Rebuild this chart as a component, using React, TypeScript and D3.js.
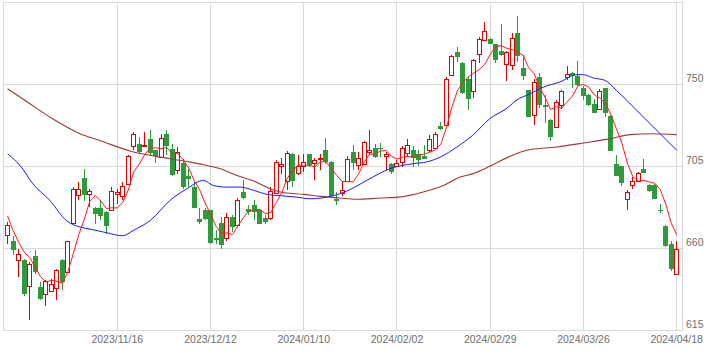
import React from "react";
import * as d3 from "d3";

// OHLC per trading day (2023/10/18 .. 2024/04/18), index 0..122
const opens = [667.7,664.5,653.9,653.6,639.3,655.8,638.9,635.3,636.8,638.6,653.6,647.2,674.2,689.3,699,689.8,682.3,682.3,680.1,681,689.8,689.1,695.3,716.1,717.6,716.1,720,714,710.3,722.7,714.9,703.3,707,699.7,693.8,676.1,681,681,666,674.2,666,677.4,673.2,691.1,682,683.8,681.4,677,677,690.5,705.2,697.1,712.1,701.7,705.4,711.7,707.2,709,714,707.5,687.2,690.5,697.1,713.1,706.1,706.3,713.1,715.4,715.3,710.9,706.3,705.4,707.6,712.5,714.3,711.8,710.9,714.3,715.4,727.1,728.1,755.5,768,761.9,753.3,746.5,766.7,774.7,775.3,772.5,768.3,761.2,760.6,778.5,759.3,746.9,733.2,754.2,739,730.8,726.8,738.7,754.2,756.6,754.6,748.4,744.2,739.2,736.7,748,732.6,706.7,705.2,687.5,695.1,697,703.9,694.8,694.8,681.4,672.3,662.8,646.3];
const highs = [674.5,666.7,660,654.2,652.7,659.4,641.7,642.6,643.5,649,654.2,664.5,693.8,696.6,703.9,692.5,682.8,686.5,680.5,693.8,692.9,696.6,711.2,723.8,721.3,723.8,725.3,714.3,722.7,724.9,717.3,715.8,709.4,703.9,696.6,682.5,682.5,681.4,670,677.4,679.6,678.3,688,697.5,683.8,686.9,681.9,678.3,693.8,708.5,709.9,713.6,712.5,711.2,712.1,712.1,709.9,712.1,720.9,708.4,691.1,697.1,710.7,717.1,713.1,718.9,725,717.6,718,713.1,707,708.5,716.2,720.4,716.2,714,716.7,722.2,724,729.5,754.2,766.1,770.7,762.5,754.2,764.3,776.2,784.4,775.6,772.5,783.1,768.5,778.4,787.5,766.1,747.3,753.3,756.6,744.2,731.3,741.4,747.3,760.3,757,762.8,749.1,744.7,742.3,747.8,748,733.2,711.6,705.2,692.4,699.3,702.2,709.4,695.7,695.7,684.7,672.8,664,664.2];
const lows = [662.4,656.7,644.4,633.8,620.7,646.3,631.6,628.3,636.2,631.6,637.1,646.6,674.2,686.5,686,682.8,673.3,675.5,667.8,680.6,684.7,686.9,694.8,714.3,712.5,715.8,711.2,707.2,709.9,711.2,700,701.1,692.9,693.8,682.3,673.3,675.5,662.4,662.4,660,664.2,669.1,672.8,687.2,678.3,675.5,673.3,673.7,675.5,690.1,701.1,692,693.8,700.2,702.1,704.8,697.8,703.3,706.6,688.3,683.8,688.7,696.6,703.4,703,705.8,711.2,709.9,710.3,703,701.2,704.8,704.8,710.3,704.8,705.2,709.2,713.1,714.9,725.3,727.7,755.1,762.5,745.1,736.3,742.9,762.1,774.3,772.1,762,766,752,758.2,762.4,752.4,732.3,727.7,737.2,729,719.1,726.4,736.5,752.4,748.4,749.1,741.4,738.3,734.5,736.3,732.3,713.6,699.7,694.2,681.4,693,696.6,701.5,691.2,687.5,679.6,660.9,647.6,646.3];
const closes = [673.1,659.1,657.2,635.3,651.4,647.2,632.2,642,640.8,648.5,641.7,664,692.9,692.9,689.6,691.6,678.8,677.7,672.6,691.6,691,694.4,710.7,723.1,713,717,712.7,710.8,720.9,716.1,700.6,713,693.8,698.2,682.3,674.8,676.4,663.1,664.9,661.8,677.4,671.9,686.5,687.8,680.1,680.1,673.3,674.6,691.6,707.7,706.6,712.7,697.1,705.2,707.5,706.1,708.8,709.9,707.5,688.7,686,692.4,709.4,707,710,718.5,714.3,710.3,714.7,712.1,702.1,706.8,715.4,716.7,710,708.5,709.2,720.4,723.1,725.7,753.3,765.6,765.2,745.4,742,763.7,775.3,779.5,772.5,763.4,766.5,768,775.8,765.7,754.8,732.3,751.5,739,737.8,721.3,740.5,746.4,756.1,754.8,749.6,743.8,738.7,734.5,746.7,734.5,713.6,699.7,696,691.3,697.1,701.5,701.7,691.7,687.5,680.5,661.3,649,660];

// 5-day MA values at the first four days (earlier closes are off the chart)
const ma5Head = [677.9, 670, 663.6, 658.2];
// 25-day MA: [day index, value]
const ma25Pts: [number, number][] = [[0,712.1],[2.5,704.8],[4.6,695.6],[7.7,686.5],[10.7,675.5],[13.2,671.9],[15.3,670.6],[18,668.8],[21,667.1],[22.9,670],[26,675.5],[29.8,687],[32.7,692.9],[35.7,697.5],[37.5,694.7],[40,693.8],[42.4,693.8],[44.9,692],[47.3,689.8],[49.7,689.1],[52.7,688.3],[55.2,687.4],[58.2,688.3],[60.6,690.2],[62.4,692.4],[65.5,697.5],[69.7,703.9],[74,706.7],[76.4,707.6],[78.9,710.3],[81.9,715.8],[84.8,722.2],[87.9,731.3],[90.9,736.8],[93.3,742.5],[94.7,744.2],[97.7,748.7],[100.7,751.5],[103.8,755.5],[105,755.5],[106.8,753.7],[108.9,752.4],[111,746.9],[114.1,737.8],[115.9,732.3],[119,723.1],[122,714]];
// 75-day MA
const ma75Pts: [number, number][] = [[0,747.8],[3.6,740.5],[8.2,731.3],[13.2,723.1],[16.8,719.4],[22.3,713.6],[29.6,709.4],[33.3,707.5],[35.7,706.1],[38.8,703.9],[41.8,700.2],[44.9,697.1],[47.9,692.9],[49.7,691.1],[54,689.8],[57,688.7],[60.6,687.8],[63.6,687.1],[67.9,687.8],[71.3,688.3],[75.8,691.1],[79.5,694.7],[82.5,699.3],[84.9,701.2],[87.9,705.2],[91.6,710.7],[94.7,714],[100.1,715.8],[105,718],[109.9,720.4],[113.5,722.6],[117.2,723.1],[122,722.6]];

const yTicks = [615, 660, 705, 750];
const xTickLabels = ["2023/11/16","2023/12/12","2024/01/10","2024/02/02","2024/02/29","2024/03/26","2024/04/18"];
const xTickIdx = [20, 37, 54, 71, 88, 105, 122];

const W = 722, H = 351;
const LEFT = 3.5, RIGHT = 682.5, TOP = 2.5, BOTTOM = 330.5;
const UP = "#e00000";
const DOWN = "#2f9a3c";
const GRID = "#d9d9d9";

export default function App() {
  const x = d3.scaleLinear().domain([0, 122]).range([7.6, 676.7]);
  const y = d3.scaleLinear().domain([615, 795]).range([330.7, 2.7]);
  const snap = (v: number) => Math.round(v - 0.5) + 0.5;

  const ma5: [number, number][] = closes.map((c, i) => {
    if (i < 4) return [i, ma5Head[i]];
    const v = d3.mean(closes.slice(i - 4, i + 1)) as number;
    return [i, v];
  });

  const line = d3.line<[number, number]>().x(d => x(d[0])).y(d => y(d[1]));
  const smooth = d3.line<[number, number]>().x(d => x(d[0])).y(d => y(d[1])).curve(d3.curveMonotoneX);

  const font = "'Liberation Sans', Arial, sans-serif";

  return (
    <svg width={W} height={H} style={{ position: "absolute", left: 0, top: 0 }}>
      <rect x={0} y={0} width={W} height={H} fill="#fff" />
      {/* grid */}
      <g shapeRendering="crispEdges" stroke={GRID} strokeWidth={1}>
        {yTicks.map(t => (
          <line key={"h" + t} x1={LEFT} x2={RIGHT} y1={snap(y(t))} y2={snap(y(t))} />
        ))}
        {xTickIdx.map(i => (
          <line key={"v" + i} x1={snap(x(i))} x2={snap(x(i))} y1={TOP} y2={BOTTOM} />
        ))}
        <rect x={LEFT} y={TOP} width={RIGHT - LEFT} height={BOTTOM - TOP} fill="none" />
      </g>
      {/* candles */}
      <g shapeRendering="crispEdges">
        {closes.map((c, i) => {
          const o = opens[i];
          const cx = snap(x(i));
          const up = c >= o;
          const top = y(Math.max(o, c));
          const bot = y(Math.min(o, c));
          const col = up ? UP : DOWN;
          return (
            <g key={i}>
              <line x1={cx} x2={cx} y1={y(highs[i])} y2={y(lows[i])} stroke={col} strokeWidth={1} />
              {up ? (
                <rect x={cx - 2} y={Math.round(top) + 0.5} width={4} height={Math.max(1, Math.round(bot) - Math.round(top))} fill="#fff" stroke={col} strokeWidth={1} />
              ) : (
                <rect x={cx - 2.5} y={Math.round(top)} width={5} height={Math.max(1, Math.round(bot) - Math.round(top))} fill={col} />
              )}
            </g>
          );
        })}
      </g>
      {/* moving averages */}
      <path d={smooth(ma75Pts) || ""} fill="none" stroke="#a03838" strokeWidth={1.1} />
      <path d={smooth(ma25Pts) || ""} fill="none" stroke="#1a1aff" strokeWidth={1} />
      <path d={line(ma5) || ""} fill="none" stroke="#ff1a1a" strokeWidth={1} />
      {/* axis labels */}
      {yTicks.map(t => (
        <text key={"yl" + t} x={686} y={snap(y(t)) - 3} fontSize={10.5} fontFamily={font} fill="#6e6e6e">{t}</text>
      ))}
      {xTickIdx.map((i, k) => (
        <text key={"xl" + i} x={x(i)} y={342.5} fontSize={10.5} fontFamily={font} fill="#6e6e6e" textAnchor="middle">{xTickLabels[k]}</text>
      ))}
    </svg>
  );
}
